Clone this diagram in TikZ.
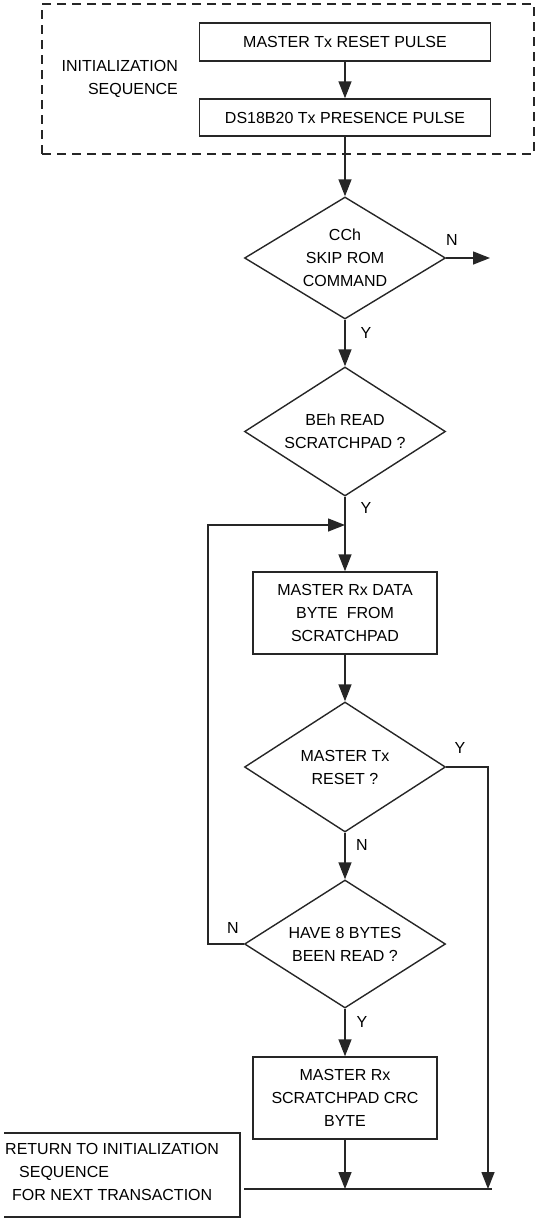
\documentclass[tikz,border=0pt]{standalone}
\usepackage{fontspec}
\setmainfont{Liberation Sans}
\usetikzlibrary{shapes.geometric,arrows.meta}
\begin{document}
\begin{tikzpicture}[x=1pt,y=-1pt,
  conn/.style={draw=black!85, line width=1.4pt},
  arr/.style={draw=black!85, line width=1.4pt, arrows={-{Triangle[length=17pt,width=13pt]}}},
  fnt/.style={text=black, font=\fontsize{16}{23}\selectfont},
  box/.style={fnt, draw=black!85, line width=1.4pt, rectangle, inner sep=0pt, align=center},
  dia/.style={draw=black!85, line width=1.4pt, diamond, inner sep=0pt, minimum width=201pt},
  txt/.style={fnt, align=center, inner sep=0pt},
  yn/.style={fnt, inner sep=0pt}]
\useasboundingbox (0,0) rectangle (538,1219);

% initialization sequence group
\node[draw=black!85, line width=1.4pt, dash pattern=on 9pt off 6pt, rectangle, minimum width=492pt, minimum height=150pt, inner sep=0pt] (grp) at (288,79) {};
\node[txt, align=right, anchor=east] (initlbl) at (178,79) {INITIALIZATION\\SEQUENCE};
\node[box, minimum width=291pt, minimum height=38pt] (b1) at (345,42) {MASTER Tx RESET PULSE};
\node[box, minimum width=291pt, minimum height=37pt] (b2) at (345,117.5) {DS18B20 Tx PRESENCE PULSE};

% decisions and steps
\node[dia, minimum height=122pt, label={[txt]center:CCh\\SKIP ROM\\COMMAND}] (d1) at (345,258) {};
\node[dia, minimum height=129pt, label={[txt]center:BEh READ\\SCRATCHPAD ?}] (d2) at (345,431.5) {};
\node[box, minimum width=184pt, minimum height=82pt] (b3) at (345,613) {MASTER Rx DATA\\BYTE\ \ FROM\\SCRATCHPAD};
\node[dia, minimum height=130pt, label={[txt]center:MASTER Tx\\RESET ?}] (d3) at (345,767) {};
\node[dia, minimum height=128pt, label={[txt]center:HAVE 8 BYTES\\BEEN READ ?}] (d4) at (345,944) {};
\node[box, minimum width=184pt, minimum height=82pt] (b5) at (345,1098) {MASTER Rx\\SCRATCHPAD CRC\\BYTE};

% return box
\coordinate (r1) at (4,1133);
\coordinate (r2) at (240,1133);
\coordinate (r3) at (240,1217);
\coordinate (r4) at (4,1217);
\draw[conn] (r1) -- (r2) -- (r3) -- (r4);
\node[txt, align=left, anchor=north west] (ret) at (5,1143) {RETURN TO INITIALIZATION\\\hspace*{14pt}SEQUENCE\\\hspace*{7pt}FOR NEXT TRANSACTION};

% coordinates
\coordinate (nend) at (490,258);
\coordinate (j1) at (345,525);
\coordinate (loopb) at (208,944);
\coordinate (loopt) at (208,525);
\coordinate (rt) at (488,767);
\coordinate (rb) at (488,1189);
\coordinate (bm) at (345,1189);
\coordinate (hl) at (244,1189);
\coordinate (hr) at (492,1189);

% connectors
\draw[arr] (b1.south) -- (b2.north);
\draw[arr] (b2.south) -- (d1.north);
\draw[arr] (d1.east) -- (nend);
\draw[arr] (d1.south) -- (d2.north);
\draw[arr] (d2.south) -- (b3.north);
\draw[arr] (d4.west) -- (loopb) -- (loopt) -- (j1);
\draw[arr] (b3.south) -- (d3.north);
\draw[arr] (d3.south) -- (d4.north);
\draw[arr] (d3.east) -- (rt) -- (rb);
\draw[arr] (d4.south) -- (b5.north);
\draw[arr] (b5.south) -- (bm);
\draw[conn] (hl) -- (hr);

% labels
\node[yn] (n1) at (452,240) {N};
\node[yn] (y1) at (366,333) {Y};
\node[yn] (y2) at (366,508) {Y};
\node[yn] (y3) at (460,748) {Y};
\node[yn] (n2) at (362,845) {N};
\node[yn] (n3) at (233,928) {N};
\node[yn] (y4) at (362,1022) {Y};
\end{tikzpicture}
\end{document}
